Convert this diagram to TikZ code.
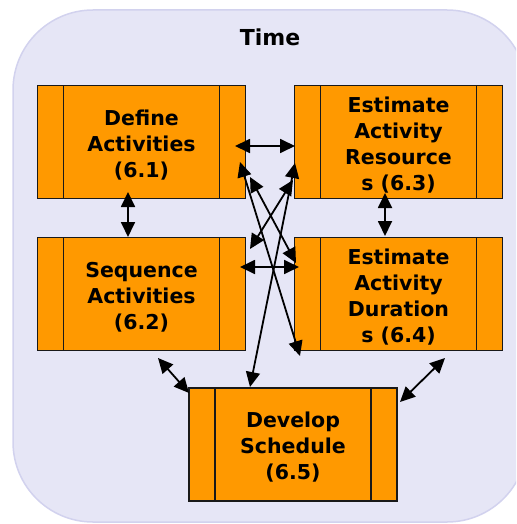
\documentclass[tikz,border=0pt]{standalone}
\usepackage{fontspec}
\setmainfont{DejaVu Sans}
\usetikzlibrary{arrows.meta,calc}
\definecolor{bgfill}{RGB}{230,230,246}
\definecolor{bgline}{RGB}{210,210,238}
\definecolor{boxfill}{RGB}{255,153,0}
\begin{document}
\begin{tikzpicture}[x=1pt,y=-1pt,
  proc/.style={draw=black!90, line width=1.5pt, fill=boxfill,
    minimum width=208pt, minimum height=113pt, inner sep=0pt,
    path picture={
      \draw[line width=1.5pt] ([xshift=26pt]path picture bounding box.north west) -- ([xshift=26pt]path picture bounding box.south west);
      \draw[line width=1.5pt] ([xshift=-26pt]path picture bounding box.north east) -- ([xshift=-26pt]path picture bounding box.south east);}},
  ptext/.style={inner sep=0pt, align=center, font=\bfseries\fontsize{20.5}{26}\selectfont},
  link/.style={line width=1.8pt, {Triangle[length=15pt,width=14pt]}-{Triangle[length=15pt,width=14pt]}}
]
\useasboundingbox (0,0) rectangle (516,524);
\begin{scope}
  \clip (0,0) rectangle (516,524);
  \draw[bgline, fill=bgfill, line width=1.5pt, rounded corners=80pt] (13,10) rectangle (527,522);
\end{scope}

\node[font=\bfseries\fontsize{22}{26}\selectfont] (title) at (270,37) {Time};

\node[proc] (d1) at (141.5,142) {};
\node[proc] (d3) at (398.5,142) {};
\node[proc] (d2) at (141.5,294) {};
\node[proc] (d4) at (398.5,294) {};
\node[proc] (d5) at (293,444.5) {};

\node[ptext] (t1) at ($(d1.center)+(0,3)$) {Define\\Activities\\(6.1)};
\node[ptext] (t3) at ($(d3.center)+(0,3.5)$) {Estimate\\Activity\\Resource\\s (6.3)};
\node[ptext] (t2) at ($(d2.center)+(0,3)$) {Sequence\\Activities\\(6.2)};
\node[ptext] (t4) at ($(d4.center)+(0,3.5)$) {Estimate\\Activity\\Duration\\s (6.4)};
\node[ptext] (t5) at ($(d5.center)+(0,3)$) {Develop\\Schedule\\(6.5)};

% connector ends
\coordinate (h13a) at (235,146);  \coordinate (h13b) at (295,146);
\coordinate (v12a) at (128,192);  \coordinate (v12b) at (128,237);
\coordinate (v34a) at (385,193);  \coordinate (v34b) at (385,236);
\coordinate (h24a) at (240,267);  \coordinate (h24b) at (299,267);
\coordinate (l1a) at (240,162);   \coordinate (l1b) at (300,356);
\coordinate (l2a) at (250,177);   \coordinate (l2b) at (296,263);
\coordinate (l3a) at (295,163);   \coordinate (l3b) at (250,387);
\coordinate (l4a) at (293,180);   \coordinate (l4b) at (250,249);
\coordinate (b25a) at (158,358);  \coordinate (b25b) at (189,393);
\coordinate (b45a) at (445,358);  \coordinate (b45b) at (400,402);

\draw[link] (h13a) -- (h13b);
\draw[link] (v12a) -- (v12b);
\draw[link] (v34a) -- (v34b);
\draw[link] (h24a) -- (h24b);
\draw[link] (l1a) -- (l1b);
\draw[link] (l2a) -- (l2b);
\draw[link] (l3a) -- (l3b);
\draw[link] (l4a) -- (l4b);
\draw[link] (b25a) -- (b25b);
\draw[link] (b45a) -- (b45b);
\end{tikzpicture}
\end{document}
